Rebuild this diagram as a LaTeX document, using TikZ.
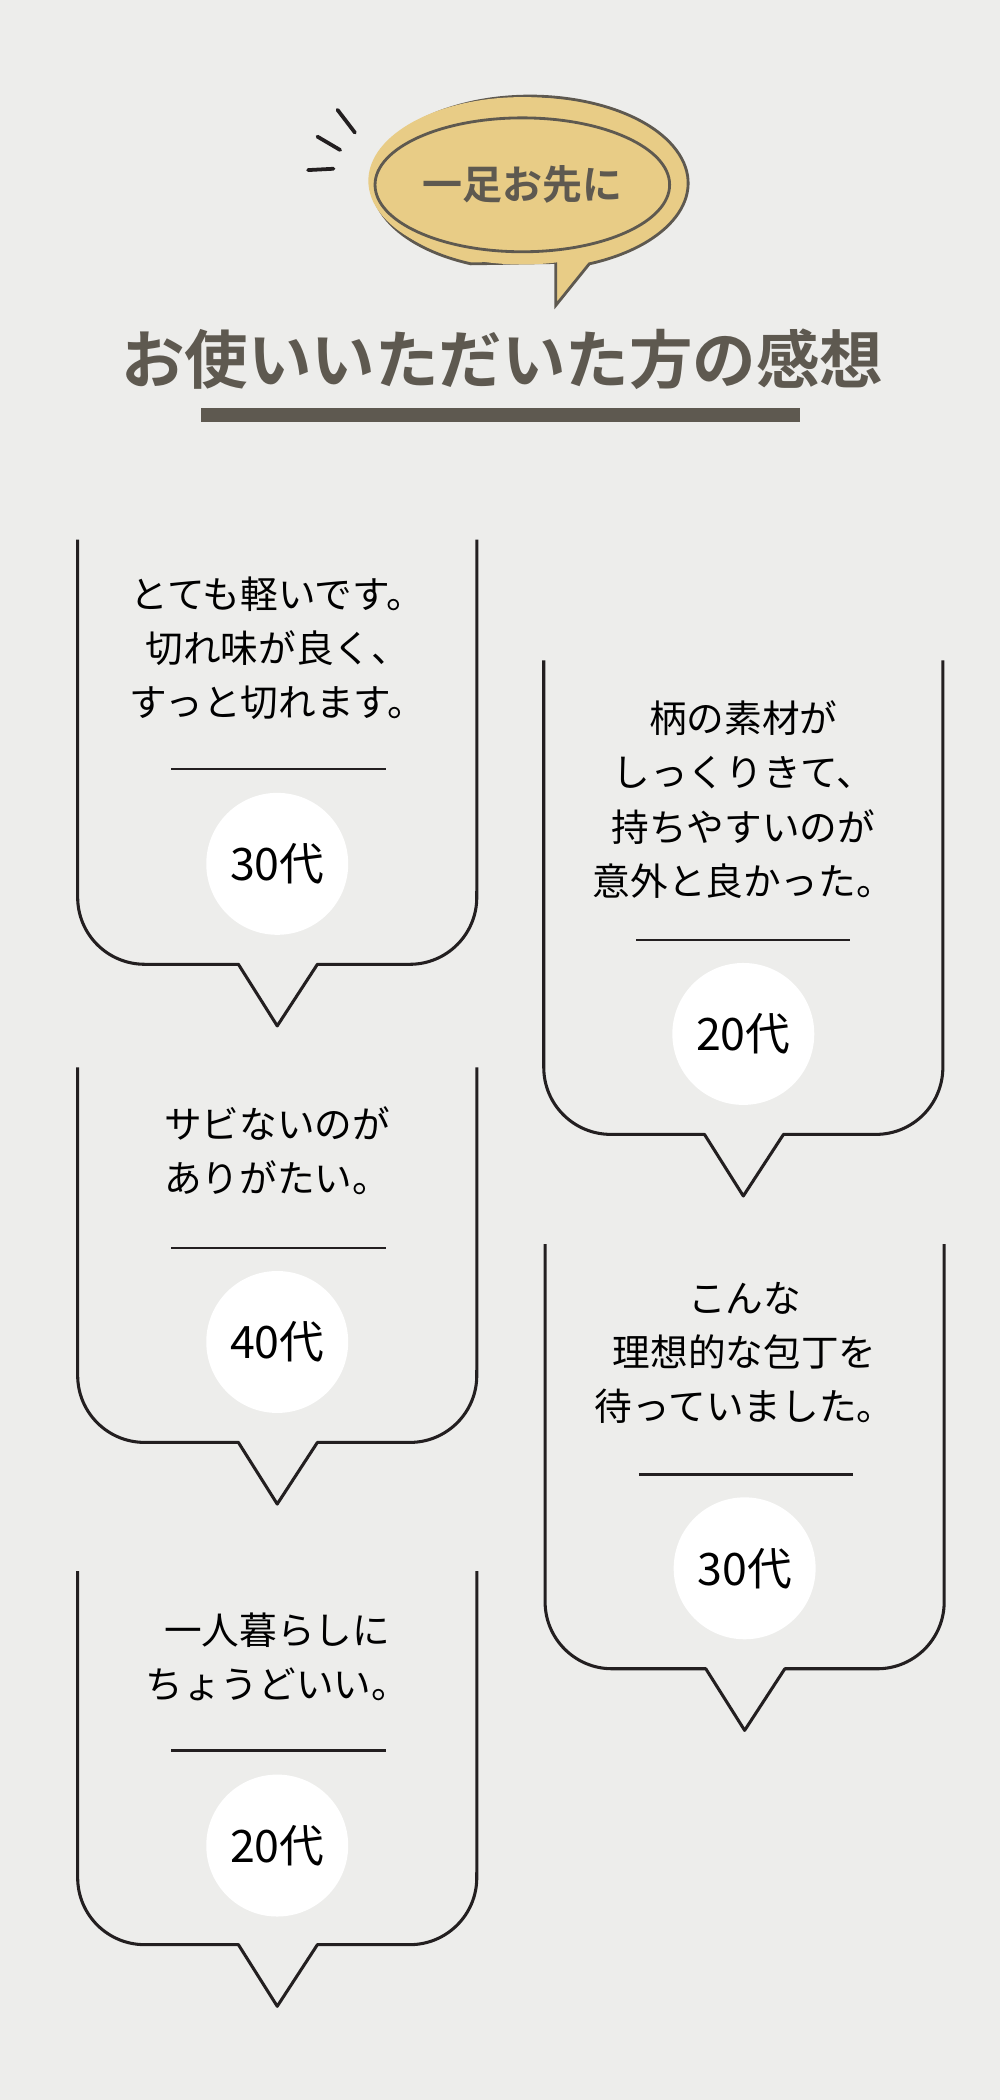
\documentclass[tikz,border=0pt]{standalone}
\usepackage{fontspec}
\setmainfont{Noto Sans CJK JP}
\newfontfamily\jpbold[BoldFont={* Bold}]{Noto Sans CJK JP}
\definecolor{paper}{HTML}{EDEDEB}
\definecolor{gold}{HTML}{E8CC86}
\definecolor{ink}{HTML}{5E5950}
\definecolor{pen}{HTML}{231F20}
\tikzset{
  cardline/.style={line width=1.3pt, pen, line join=round},
  voice/.style={align=center, font=\fontsize{16}{23}\selectfont, text=black},
  agebadge/.style={circle, fill=white, minimum size=2.12cm, inner sep=0pt, font=\fontsize{19}{19}\selectfont},
}
% card outline: left x, top y, bottom y
\newcommand\voicecard[3]{%
  \draw[cardline] (#1,-#2) -- (#1,-#3+50) arc[start angle=180,end angle=270,radius=1cm]
    -- (#1+120,-#3) -- (#1+149,-#3-46) -- (#1+179,-#3) -- (#1+248,-#3)
    arc[start angle=270,end angle=360,radius=1cm] -- (#1+298,-#2);}
\begin{document}
\begin{tikzpicture}[x=0.02cm,y=0.02cm]
  \fill[paper] (0,0) rectangle (747,-1568);
  \useasboundingbox (0,0) rectangle (747,-1568);

  % header bubble
  \draw[ink, line width=1.2pt, fill=gold] (415,-196) -- (415,-228) -- (440,-197)
    arc[start angle=-68, end angle=248, x radius=2.36cm, y radius=1.3cm] -- cycle;
  \fill[gold] (390,-135) ellipse[x radius=2.3cm, y radius=1.25cm];
  \draw[ink, line width=1.2pt] (390,-138) ellipse[x radius=2.2cm, y radius=1cm];
  \node[text=ink, font=\jpbold\bfseries\fontsize{17}{17}\selectfont] (tag) at (390,-138) {一足お先に};
  \draw[pen, line width=1.6pt, line cap=round] (230,-127) -- (249,-126);
  \draw[pen, line width=1.6pt, line cap=round] (237,-102) -- (254,-112);
  \draw[pen, line width=1.6pt, line cap=round] (252,-82) -- (265,-99);

  % title
  \node[text=ink, font=\jpbold\bfseries\fontsize{27}{27}\selectfont] (title) at (375,-268) {お使いいただいた方の感想};
  \fill[ink] (150,-305) rectangle (597,-315);

  % left column
  \voicecard{58}{403}{720}
  \node[voice] (v1) at (207,-484) {とても軽いです。\\切れ味が良く、\\すっと切れます。};
  \draw[pen, line width=1pt] (128,-574) -- (288,-574);
  \node[agebadge] (a1) at (207,-645) {30代};

  \voicecard{58}{797}{1077}
  \node[voice] (v2) at (207,-859) {サビないのが\\ありがたい。};
  \draw[pen, line width=1pt] (128,-932) -- (288,-932);
  \node[agebadge] (a2) at (207,-1002) {40代};

  \voicecard{58}{1173}{1452}
  \node[voice] (v3) at (207,-1237) {一人暮らしに\\ちょうどいい。};
  \draw[pen, line width=1pt] (128,-1307) -- (288,-1307);
  \node[agebadge] (a3) at (207,-1378) {20代};

  % right column
  \voicecard{406}{493}{847}
  \node[voice] (v4) at (555,-597) {柄の素材が\\しっくりきて、\\持ちやすいのが\\意外と良かった。};
  \draw[pen, line width=1pt] (475,-702) -- (635,-702);
  \node[agebadge] (a4) at (555,-772) {20代};

  \voicecard{407}{929}{1246}
  \node[voice] (v5) at (556,-1010) {こんな\\理想的な包丁を\\待っていました。};
  \draw[pen, line width=1pt] (477,-1101) -- (637,-1101);
  \node[agebadge] (a5) at (556,-1171) {30代};
\end{tikzpicture}
\end{document}
